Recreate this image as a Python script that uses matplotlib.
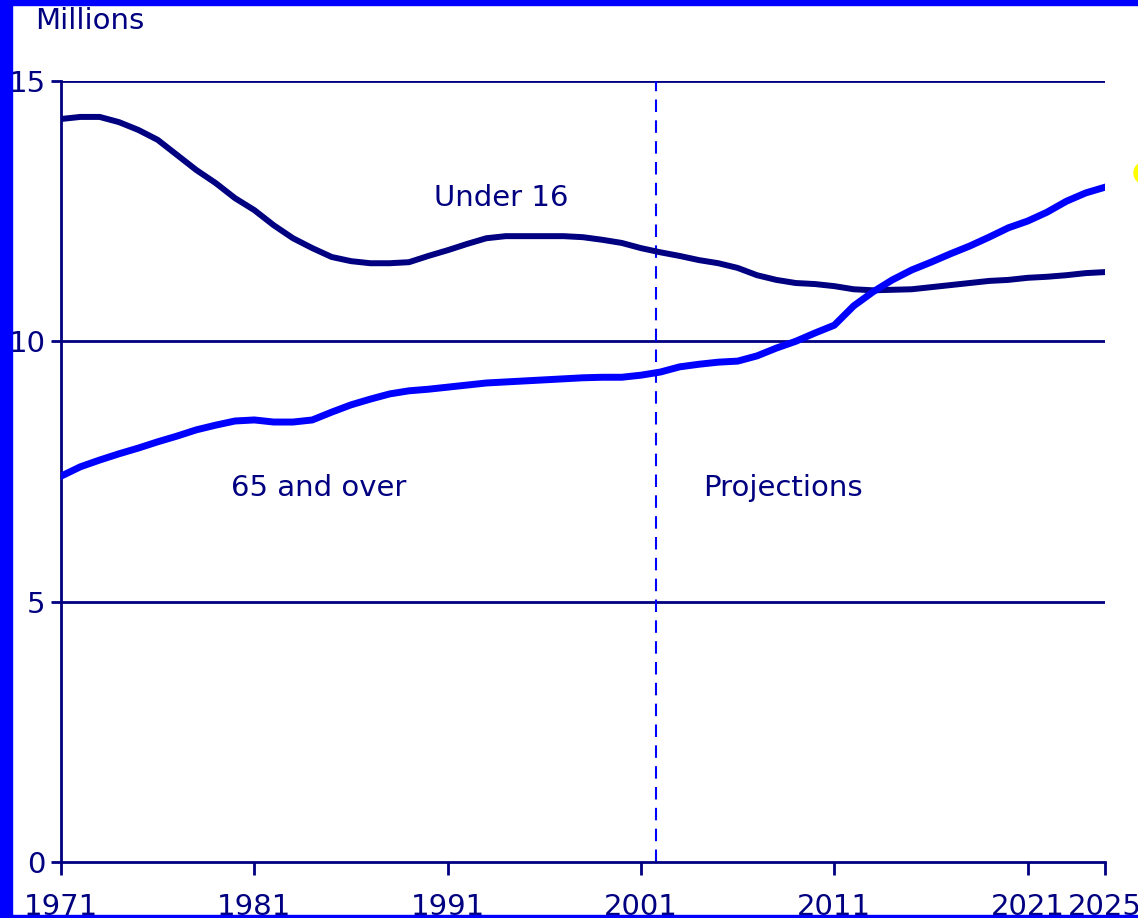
import matplotlib
matplotlib.use('Agg')
import matplotlib.pyplot as plt
from matplotlib.patches import Rectangle, Ellipse

NAVY = '#000080'
BLUE = '#0000FF'

years = list(range(1971, 2026))
under16 = [14.27, 14.31, 14.31, 14.21, 14.06, 13.87, 13.58, 13.29, 13.04, 12.75,
           12.52, 12.23, 11.98, 11.79, 11.62, 11.54, 11.50, 11.50, 11.52, 11.64,
           11.75, 11.87, 11.98, 12.02, 12.02, 12.02, 12.02, 12.00, 11.95, 11.89,
           11.79, 11.71, 11.64, 11.56, 11.50, 11.41, 11.27, 11.18, 11.12, 11.10,
           11.06, 11.00, 10.98, 10.99, 11.00, 11.04, 11.08, 11.12, 11.16, 11.18,
           11.22, 11.24, 11.27, 11.31, 11.33]
over65 = [7.41, 7.59, 7.72, 7.84, 7.95, 8.07, 8.18, 8.30, 8.39, 8.47,
          8.49, 8.45, 8.45, 8.49, 8.64, 8.78, 8.89, 8.99, 9.05, 9.08,
          9.12, 9.16, 9.20, 9.22, 9.24, 9.26, 9.28, 9.30, 9.31, 9.31,
          9.35, 9.41, 9.51, 9.56, 9.60, 9.62, 9.72, 9.87, 10.00, 10.16,
          10.31, 10.68, 10.95, 11.18, 11.37, 11.52, 11.68, 11.83, 12.00, 12.18,
          12.31, 12.48, 12.69, 12.85, 12.96]
xticks = [1971, 1981, 1991, 2001, 2011, 2021, 2025]
yticks = [0, 5, 10, 15]
projection_start = 2001.75

FS = 21

fig = plt.figure(figsize=(11.38, 9.18), dpi=100)
fig.patch.set_facecolor('white')
ax = fig.add_axes([61 / 1138, 1 - 862 / 918, (1105 - 61) / 1138, (862 - 81) / 918])

for v in yticks[1:]:
    ax.axhline(v, color=NAVY, lw=2, zorder=1)
ax.axvline(projection_start, color=BLUE, lw=1.5, ls=(0, (6, 4)), zorder=1)

ax.plot(years, under16, color=NAVY, lw=4.3, zorder=3)
ax.plot(years, over65, color=BLUE, lw=5, zorder=3)

ax.text(1990.3, 12.75, 'Under 16', color=NAVY, fontsize=FS, va='center', ha='left')
ax.text(1979.8, 7.18, '65 and over', color=NAVY, fontsize=FS, va='center', ha='left')
ax.text(2004.2, 7.18, 'Projections', color=NAVY, fontsize=FS, va='center', ha='left')

ax.set_xlim(1971, 2025)
ax.set_ylim(0, 15)
ax.set_xticks(xticks)
ax.set_xticklabels([str(y) for y in xticks])
ax.set_yticks(yticks)
for s in ['top', 'right']:
    ax.spines[s].set_visible(False)
for s in ['left', 'bottom']:
    ax.spines[s].set_color(NAVY)
    ax.spines[s].set_linewidth(2)
ax.tick_params(axis='x', colors=NAVY, length=9, width=2, labelsize=FS, pad=13)
ax.tick_params(axis='y', colors=NAVY, length=7, width=2, labelsize=FS, pad=4)
ax.set_facecolor('white')

fig.text(35 / 1138, 1 - 21 / 918, 'Millions', color=NAVY, fontsize=FS,
         va='center', ha='left')

# blue frame and the stray yellow dot on the right edge
fig.patches.append(Rectangle((0, 0), 12 / 1138, 1, transform=fig.transFigure,
                             color=BLUE, zorder=10))
fig.patches.append(Rectangle((0, 1 - 5 / 918), 1, 5 / 918, transform=fig.transFigure,
                             color=BLUE, zorder=10))
fig.patches.append(Rectangle((0, 0), 1, 3 / 918, transform=fig.transFigure,
                             color=BLUE, zorder=10))
fig.patches.append(Ellipse((1145 / 1138, 1 - 173 / 918), 22 / 1138, 22 / 918,
                           transform=fig.transFigure, color='#FFFF00', zorder=10))

fig.savefig('out.png', dpi=100)
